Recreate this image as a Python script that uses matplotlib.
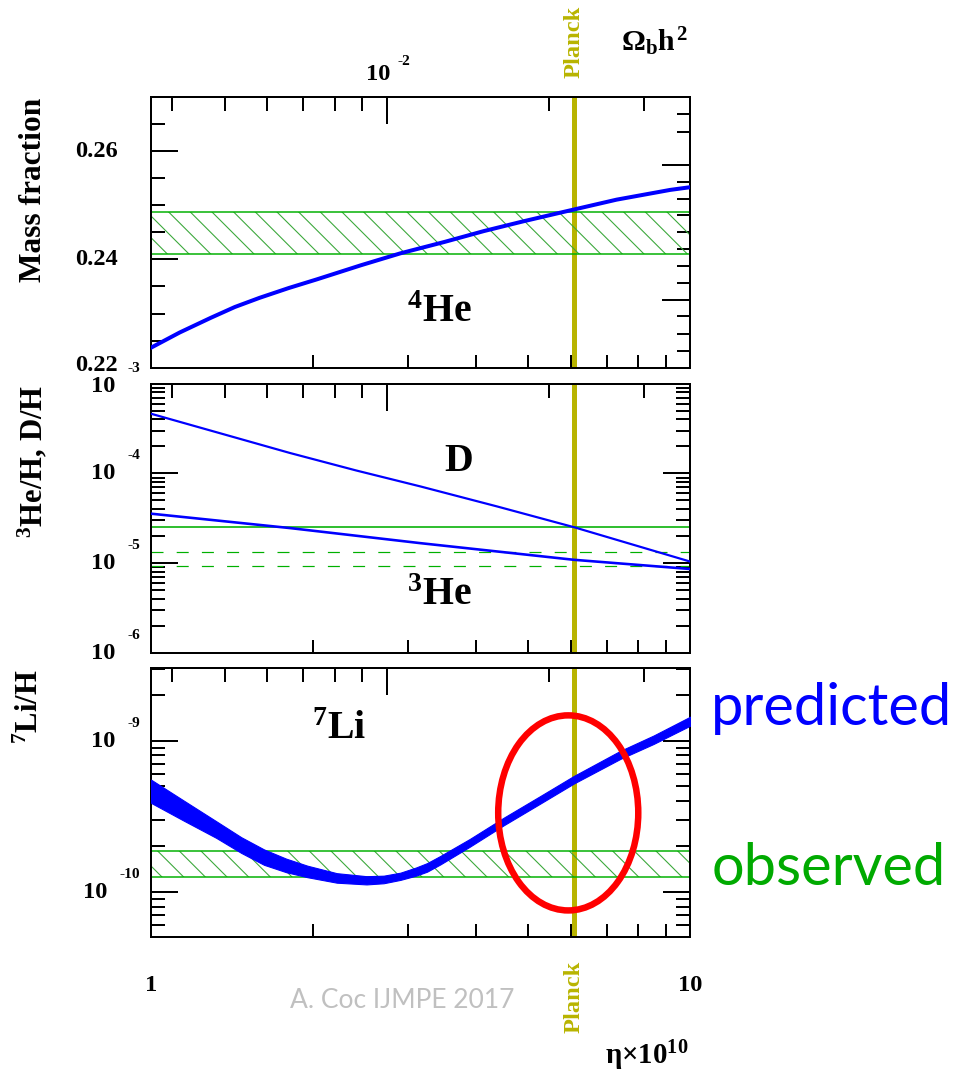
import numpy as np
import matplotlib
matplotlib.use('Agg')
import matplotlib.pyplot as plt
from matplotlib.ticker import FixedLocator, NullFormatter, MultipleLocator, LogLocator
from matplotlib.patches import Ellipse

plt.rcParams['font.family'] = ['Liberation Serif', 'DejaVu Serif']
plt.rcParams['font.weight'] = 'bold'
plt.rcParams['mathtext.fontset'] = 'custom'
plt.rcParams['mathtext.rm'] = 'Liberation Serif:bold'
plt.rcParams['mathtext.it'] = 'Liberation Serif:bold'
plt.rcParams['mathtext.bf'] = 'Liberation Serif:bold'
plt.rcParams['hatch.linewidth'] = 0.6

DPI = 130
W, H = 959, 1073
PT = 72 / DPI  # points per pixel

BLUE = '#0000ff'
GREEN = '#00b000'
HATCH = '#3aa83a'
OLIVE = '#b8b400'

# ---- data ----
planck_eta = 6.09

eta_he4 = [1.0, 1.13, 1.29, 1.43, 1.59, 1.8, 2.03, 2.45, 2.9, 3.5, 4.14, 4.9, 5.74, 7.3, 9.18, 10.0]
yp_he4 = [0.2237, 0.2265, 0.2292, 0.2312, 0.2329, 0.2347, 0.2363, 0.2389, 0.2411, 0.2432,
          0.2452, 0.2470, 0.2486, 0.2510, 0.2528, 0.2533]
yp_obs = (0.2409, 0.2488)

eta_d = [1.0, 1.81, 2.4, 3.16, 4.38, 6.08, 10.0]
d_h = [4.63e-4, 1.69e-4, 1.08e-4, 7.16e-5, 4.29e-5, 2.52e-5, 1.04e-5]
eta_he3 = [1.0, 1.81, 3.16, 4.38, 6.08, 10.0]
he3_h = [3.56e-5, 2.46e-5, 1.67e-5, 1.35e-5, 1.09e-5, 8.6e-6]
dh_obs = 2.56e-5
he3_obs = (9.2e-6, 1.33e-5)

eta_li = [1.0, 1.15, 1.32, 1.47, 1.62, 1.78, 1.95, 2.21, 2.51, 2.7, 2.9, 3.1, 3.25, 3.44,
          3.9, 4.51, 5.27, 6.08, 7.42, 8.55, 10.0]
li_lo = [3.88, 2.96, 2.28, 1.81, 1.51, 1.35, 1.25, 1.15, 1.12, 1.14, 1.20, 1.28, 1.36, 1.52,
         1.99, 2.76, 3.84, 5.21, 7.59, 9.53, 12.6]    # x1e-10
li_hi = [5.53, 4.02, 2.94, 2.30, 1.91, 1.66, 1.49, 1.33, 1.27, 1.28, 1.34, 1.45, 1.55, 1.73,
         2.24, 3.10, 4.31, 5.85, 8.59, 10.84, 14.45]  # x1e-10
li_obs = (1.26e-10, 1.87e-10)

# tick positions and labels
eta_minor = [2, 3, 4, 5, 6, 7, 8, 9]
omega_major = [0.01]
omega_minor = [0.004, 0.005, 0.006, 0.007, 0.008, 0.009, 0.02, 0.03]
he4_right_major = [0.23255, 0.25745]
he4_right_minor = [0.26681, 0.26349, 0.25419, 0.25118, 0.24823, 0.24504, 0.24190,
                   0.23882, 0.23563, 0.22946, 0.22622, 0.22314]
he4_labels = [(0.26, '0.26', 0), (0.24, '0.24', 0), (0.22, '0.22', 3)]
dh_labels = [(1e-3, '-3', -2), (1e-4, '-4', 0), (1e-5, '-5', 0), (1e-6, '-6', 0)]
li_labels = [(1e-9, '-9', 0), (1e-10, '-10', 0)]


def px(x, y):
    return x / W, 1 - y / H


def to_omega(e):
    return np.asarray(e) / 273.9


def to_eta(o):
    return np.asarray(o) * 273.9


def frame(ax):
    ax.set_xscale('log')
    ax.set_xlim(1, 10)
    ax.xaxis.set_major_locator(FixedLocator([1, 10]))
    ax.xaxis.set_minor_locator(FixedLocator(eta_minor))
    ax.xaxis.set_major_formatter(NullFormatter())
    ax.xaxis.set_minor_formatter(NullFormatter())
    ax.tick_params(axis='x', which='both', direction='in', length=13.5 * PT,
                   width=2 * PT, top=False, bottom=True)
    ax.tick_params(axis='y', which='major', direction='in', length=27 * PT, width=2 * PT)
    ax.tick_params(axis='y', which='minor', direction='in', length=14 * PT, width=2 * PT)
    for s in ax.spines.values():
        s.set_linewidth(2 * PT)
    sec = ax.secondary_xaxis('top', functions=(to_omega, to_eta))
    sec.xaxis.set_major_locator(FixedLocator(omega_major))
    sec.xaxis.set_minor_locator(FixedLocator(omega_minor))
    sec.xaxis.set_major_formatter(NullFormatter())
    sec.xaxis.set_minor_formatter(NullFormatter())
    sec.tick_params(which='major', direction='in', length=27 * PT, width=2 * PT)
    sec.tick_params(which='minor', direction='in', length=13.5 * PT, width=2 * PT)
    sec.spines['top'].set_linewidth(2 * PT)
    ax.axvline(planck_eta, color=OLIVE, lw=5 * PT, zorder=1.5)


def pow_label(ax, val, exp, dy=0):
    tr = ax.get_yaxis_transform()
    w_exp = 5.1 + 7.7 * (len(exp) - 1)
    ax.annotate(exp, xy=(0, val), xycoords=tr, xytext=(-11 * PT, (18 + dy) * PT),
                textcoords='offset points', ha='right', va='center', fontsize=8.5)
    ax.annotate('10', xy=(0, val), xycoords=tr, xytext=(-(23 + w_exp) * PT, dy * PT),
                textcoords='offset points', ha='right', va='center', fontsize=13.5)


fig = plt.figure(figsize=(959.4 / DPI, 1073.4 / DPI), dpi=DPI)
left, width = 151 / W, 539 / W
ax1 = fig.add_axes([left, (H - 368) / H, width, 271 / H])
ax2 = fig.add_axes([left, (H - 653) / H, width, 269 / H])
ax3 = fig.add_axes([left, (H - 937) / H, width, 269 / H])

# ---- panel 1: 4He ----
frame(ax1)
ax1.set_ylim(0.22, 0.27)
ax1.yaxis.set_major_locator(MultipleLocator(0.02))
ax1.yaxis.set_minor_locator(MultipleLocator(0.005))
ax1.yaxis.set_major_formatter(NullFormatter())
ax1.axhspan(yp_obs[0], yp_obs[1], facecolor='none', edgecolor=HATCH, hatch='\\\\', lw=0, zorder=2)
ax1.axhline(yp_obs[0], color=GREEN, lw=1.5 * PT, zorder=2)
ax1.axhline(yp_obs[1], color=GREEN, lw=1.5 * PT, zorder=2)
ax1.plot(eta_he4, yp_he4, color=BLUE, lw=4 * PT, zorder=3)
for v, s, dy in he4_labels:
    ax1.annotate(s, xy=(0, v), xycoords=ax1.get_yaxis_transform(), xytext=(-33 * PT, dy * PT),
                 textcoords='offset points', ha='right', va='center', fontsize=13.5)
r1 = ax1.secondary_yaxis('right')
r1.yaxis.set_major_locator(FixedLocator(he4_right_major))
r1.yaxis.set_minor_locator(FixedLocator(he4_right_minor))
r1.yaxis.set_major_formatter(NullFormatter())
r1.yaxis.set_minor_formatter(NullFormatter())
r1.tick_params(which='major', direction='in', length=28 * PT, width=2 * PT)
r1.tick_params(which='minor', direction='in', length=13.5 * PT, width=2 * PT)
r1.spines['right'].set_linewidth(2 * PT)

# ---- panel 2: D and 3He ----
frame(ax2)
ax2.set_yscale('log')
ax2.set_ylim(1e-6, 1e-3)
ax2.yaxis.set_major_locator(LogLocator(base=10))
ax2.yaxis.set_minor_locator(LogLocator(base=10, subs=np.arange(2, 10)))
ax2.yaxis.set_major_formatter(NullFormatter())
ax2.yaxis.set_minor_formatter(NullFormatter())
ax2.tick_params(axis='y', which='both', right=True)
ax2.axhline(dh_obs, color=GREEN, lw=1.6 * PT, zorder=2)
for v in he3_obs:
    ax2.axhline(v, color=GREEN, lw=1.2 * PT, dashes=(10, 11), zorder=2)
ax2.plot(eta_d, d_h, color=BLUE, lw=2.2 * PT, zorder=3)
ax2.plot(eta_he3, he3_h, color=BLUE, lw=2.6 * PT, zorder=3)
for v, e, dy in dh_labels:
    pow_label(ax2, v, e, dy)

# ---- panel 3: 7Li ----
frame(ax3)
ax3.set_yscale('log')
ax3.set_ylim(5.03e-11, 3.04e-9)
ax3.yaxis.set_major_locator(LogLocator(base=10))
ax3.yaxis.set_minor_locator(LogLocator(base=10, subs=np.arange(2, 10)))
ax3.yaxis.set_major_formatter(NullFormatter())
ax3.yaxis.set_minor_formatter(NullFormatter())
ax3.tick_params(axis='y', which='both', right=True)
ax3.axhspan(li_obs[0], li_obs[1], facecolor='none', edgecolor=HATCH, hatch='\\\\', lw=0, zorder=2)
ax3.axhline(li_obs[0], color=GREEN, lw=1.5 * PT, zorder=2)
ax3.axhline(li_obs[1], color=GREEN, lw=1.5 * PT, zorder=2)
ax3.fill_between(eta_li, np.array(li_lo) * 1e-10, np.array(li_hi) * 1e-10,
                 color=BLUE, lw=0.6, zorder=3)
for v, e, dy in li_labels:
    pow_label(ax3, v, e, dy)

# bottom eta labels
tr3 = ax3.get_xaxis_transform()
for v, s in [(1, '1'), (10, '10')]:
    ax3.annotate(s, xy=(v, 0), xycoords=tr3, xytext=(0, -48 * PT),
                 textcoords='offset points', ha='center', va='center', fontsize=13.5)

# top omega label
tr1 = ax1.get_xaxis_transform()
ax1.annotate('10', xy=(to_eta(0.01), 1), xycoords=tr1, xytext=(-9 * PT, 23 * PT),
             textcoords='offset points', ha='center', va='center', fontsize=13.5)
ax1.annotate('-2', xy=(to_eta(0.01), 1), xycoords=tr1, xytext=(10 * PT, 36 * PT),
             textcoords='offset points', ha='left', va='center', fontsize=8.5)

# axis titles
fig.text(*px(33, 98), 'Mass fraction', rotation=90, ha='center', va='top', fontsize=17.4)
fig.text(*px(33, 385), r'$^{3}$He/H, D/H', rotation=90, ha='center', va='top', fontsize=17)
fig.text(*px(30, 669), r'$^{7}$Li/H', rotation=90, ha='center', va='top', fontsize=17)
fig.text(*px(621, 42), r'$\Omega_{b}h^{2}$', ha='left', va='center', fontsize=16.5)
fig.text(*px(688, 1055), r'$\eta{\times}10^{10}$', ha='right', va='center', fontsize=16)

# isotope labels
fig.text(*px(439, 312), r'$^{4}$He', ha='center', va='center', fontsize=22)
fig.text(*px(458, 461), 'D', ha='center', va='center', fontsize=22)
fig.text(*px(439, 595), r'$^{3}$He', ha='center', va='center', fontsize=22)
fig.text(*px(339, 729), r'$^{7}$Li', ha='center', va='center', fontsize=22)

# Planck labels
fig.text(*px(574, 42), 'Planck', rotation=90, ha='center', va='center', color=OLIVE, fontsize=13.5)
fig.text(*px(574, 997), 'Planck', rotation=90, ha='center', va='center', color=OLIVE, fontsize=13.5)

# slide annotations
fig.text(*px(711, 725), 'predicted', ha='left', va='baseline', color=BLUE,
         fontsize=32, family='Lato', weight='normal')
fig.text(*px(711, 885), 'observed', ha='left', va='baseline', color='#00aa00',
         fontsize=32, family='Lato', weight='normal')
fig.text(*px(290, 1008), 'A. Coc IJMPE 2017', ha='left', va='baseline', color='#c0c0c0',
         fontsize=14.6, family='Lato', weight='normal')

fig.add_artist(Ellipse(px(568, 813), 140 / W, 195 / H, transform=fig.transFigure,
                       fill=False, ec='red', lw=6.5 * PT, zorder=10))

fig.savefig('out.png', dpi=DPI)
